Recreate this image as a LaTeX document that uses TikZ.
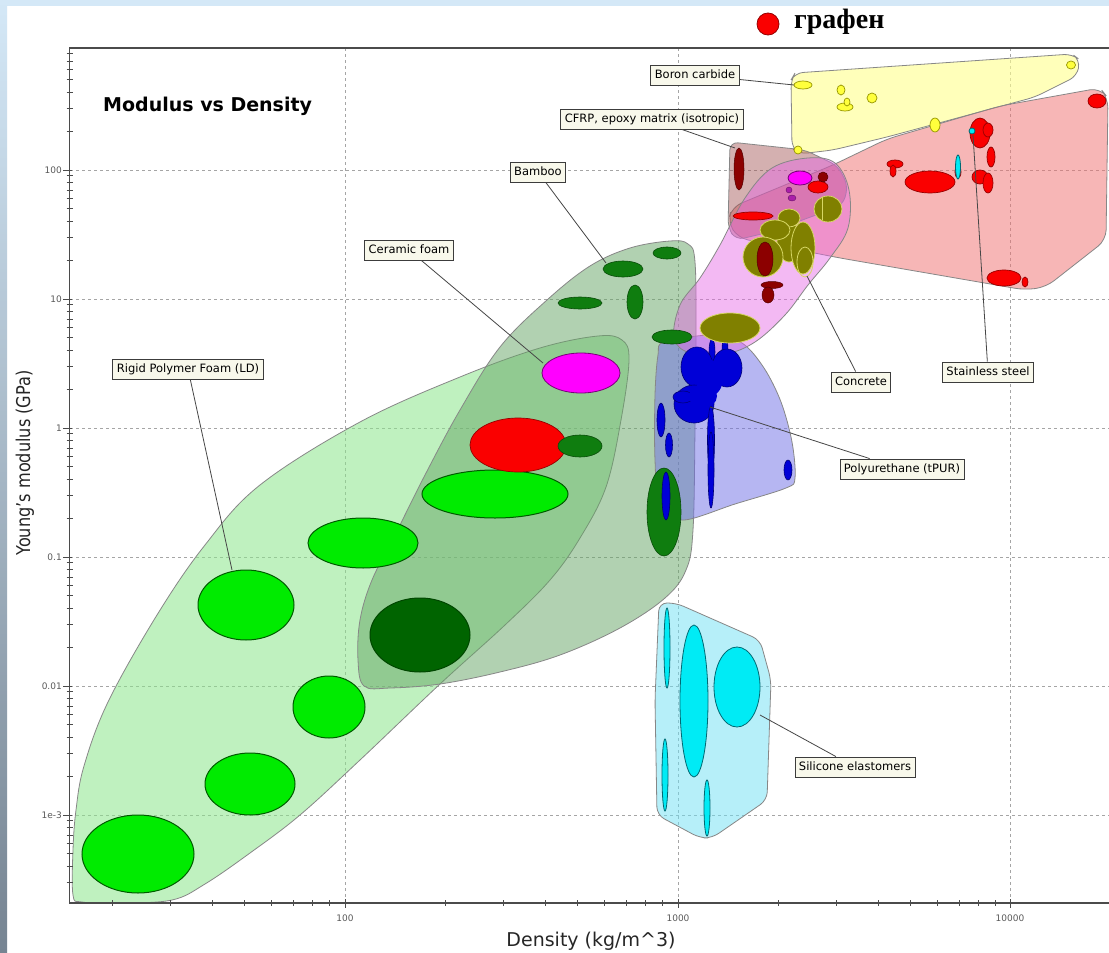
\documentclass[tikz,border=0pt]{standalone}
\usepackage{fontspec}
\usepackage{graphicx}
\setmainfont{DejaVu Sans}
\newfontfamily\rufont{Liberation Serif}
\definecolor{bandblue}{RGB}{212,232,247}
\definecolor{bandgray}{RGB}{118,132,146}
\definecolor{axiscol}{RGB}{75,75,75}
\definecolor{gridcol}{RGB}{165,165,165}
\definecolor{envline}{RGB}{135,135,135}
\definecolor{polyenv}{RGB}{140,230,140}
\definecolor{bambooenv}{RGB}{100,165,100}
\definecolor{purenv}{RGB}{110,110,230}
\definecolor{pinkenv}{RGB}{230,100,230}
\definecolor{cfrpenv}{RGB}{160,80,80}
\definecolor{redenv}{RGB}{240,110,110}
\definecolor{yelenv}{RGB}{255,255,140}
\definecolor{silenv}{RGB}{110,225,245}
\definecolor{bgreen}{RGB}{0,235,0}
\definecolor{bgreenline}{RGB}{0,90,0}
\definecolor{dgreen}{RGB}{0,100,0}
\definecolor{wgreen}{RGB}{15,125,15}
\definecolor{redfill}{RGB}{250,0,0}
\definecolor{redline}{RGB}{150,0,0}
\definecolor{magfill}{RGB}{255,0,255}
\definecolor{magline}{RGB}{120,0,120}
\definecolor{purfill}{RGB}{170,30,170}
\definecolor{blufill}{RGB}{0,0,215}
\definecolor{bluline}{RGB}{0,0,120}
\definecolor{olivefill}{RGB}{128,128,0}
\definecolor{oliveline}{RGB}{215,215,100}
\definecolor{dredfill}{RGB}{140,0,0}
\definecolor{cyanfill}{RGB}{0,235,245}
\definecolor{cyanline}{RGB}{0,105,115}
\definecolor{yelfill}{RGB}{255,255,60}
\definecolor{yelline}{RGB}{150,150,0}
\definecolor{lblfill}{RGB}{248,248,235}
\definecolor{lblline}{RGB}{60,60,60}
\definecolor{ticktext}{RGB}{90,90,90}
\definecolor{leadcol}{RGB}{70,70,70}
\newcommand\ovl[4]{\path[#1] (#2) ellipse [x radius=#3pt, y radius=#4pt];}
\begin{document}
\begin{tikzpicture}[x=1pt,y=-1pt,
  env/.style={draw=envline, line width=0.8pt},
  gridline/.style={draw=gridcol, line width=0.8pt, dash pattern=on 3pt off 3pt},
  axisline/.style={draw=axiscol, line width=1.6pt},
  tickmin/.style={draw=axiscol, line width=0.9pt},
  tickmaj/.style={draw=axiscol, line width=1pt},
  ticklab/.style={font=\fontsize{9}{10}\selectfont, text=ticktext, inner sep=1pt},
  gball/.style={fill=bgreen, draw=bgreenline, line width=1pt},
  dball/.style={fill=dgreen, draw=dgreen!70!black, line width=1pt},
  wball/.style={fill=wgreen, draw=wgreen!60!black, line width=0.6pt},
  rball/.style={fill=redfill, draw=redline, line width=0.7pt},
  mball/.style={fill=magfill, draw=magline, line width=0.8pt},
  pball/.style={fill=purfill, draw=purfill!60!black, line width=0.4pt},
  uball/.style={fill=blufill, draw=bluline, line width=0.6pt},
  ublob/.style={fill=blufill, draw=none},
  oball/.style={fill=olivefill, draw=oliveline, line width=0.8pt},
  oring/.style={draw=oliveline, line width=0.8pt},
  drball/.style={fill=dredfill, draw=dredfill!60!black, line width=0.5pt},
  cball/.style={fill=cyanfill, draw=cyanline, line width=0.8pt},
  yball/.style={fill=yelfill, draw=yelline, line width=0.7pt},
  lbl/.style={draw=lblline, fill=lblfill, line width=0.9pt, font=\fontsize{11.5}{13}\selectfont,
    inner xsep=4pt, inner ysep=4.5pt, text height=8.5pt, text depth=2.5pt},
  lead/.style={draw=leadcol, line width=0.8pt}]
\useasboundingbox (0,0) rectangle (1109,953);
% frame
\fill[white] (0,0) rectangle (1109,953);
\fill[bandblue] (0,0) rectangle (1109,6);
\shade[top color=bandblue, bottom color=bandgray] (0,0) rectangle (7,953);
% grid
\foreach \yy in {170,299,428,557,686,815} \draw[gridline] (70,\yy) -- (1109,\yy);
\foreach \xx in {345,678,1010} \draw[gridline] (\xx,48) -- (\xx,903);
% envelopes
\draw[env, fill=polyenv, fill opacity=0.55] plot[smooth cycle, tension=0.6] coordinates {
 (73,895) (73,850) (76,810) (84,766) (108,702) (157,615) (205,545) (260,485) (360,422) (460,377)
 (540,348) (598,336) (622,340) (629,360) (621,420) (606,487) (580,538) (550,580) (505,625)
 (440,684) (360,760) (300,815) (250,853) (205,884) (172,900) (120,903) (82,902)};
\draw[env, fill=bambooenv, fill opacity=0.5] plot[smooth cycle, tension=0.6] coordinates {
 (364,686) (358,660) (360,620) (372,580) (395,535) (425,475) (460,410) (500,347) (547,300)
 (590,266) (630,248) (670,241) (688,244) (695,262) (696,340) (695,430) (693,530) (686,570)
 (665,598) (620,628) (560,655) (500,672) (440,684) (390,688)};
\draw[env, fill=purenv, fill opacity=0.5] plot[smooth cycle, tension=0.55] coordinates {
 (664,342) (712,335) (742,343) (764,368) (781,402) (792,442) (795,478) (786,488) (735,504)
 (684,520) (660,508) (655,460) (655,395) (658,355)};
\draw[env, fill=yelenv, fill opacity=0.6, rounded corners=8pt] (795,73) -- (1072,54) -- (1080,60)
 -- (1077,76) -- (1035,97) -- (887,137) -- (833,150) -- (799,154) -- (792,148) -- (791,80) -- cycle;
\draw[env, fill=redenv, fill opacity=0.5, rounded corners=10pt] (732,207) -- (833,165) -- (887,139)
 -- (1000,106) -- (1100,88) -- (1108,98) -- (1106,240) -- (1046,287) -- (1025,290) -- (840,258)
 -- (738,238) -- (728,222) -- cycle;
\draw[env, fill=cfrpenv, fill opacity=0.45, rounded corners=8pt] (730,142) -- (805,150) -- (838,166)
 -- (848,186) -- (843,205) -- (770,232) -- (736,240) -- (728,228) -- cycle;
\draw[env, fill=pinkenv, fill opacity=0.45] plot[smooth cycle, tension=0.6] coordinates {
 (690,353) (674,338) (680,305) (700,278) (720,245) (745,198) (772,168) (808,158) (835,163)
 (849,190) (848,228) (830,258) (808,285) (785,315) (755,342) (725,354)};
\draw[env, fill=silenv, fill opacity=0.5, rounded corners=8pt] (659,603) -- (676,603) -- (760,640)
 -- (771,680) -- (767,800) -- (712,838) -- (700,838) -- (657,815) -- (655,700) -- cycle;
% foams
\ovl{gball}{138,854}{56}{39}
\ovl{gball}{250,784}{45}{31}
\ovl{gball}{329,707}{36}{31}
\ovl{gball}{246,605}{48}{35}
\ovl{gball}{363,543}{55}{25}
\ovl{gball}{495,494}{73}{24}
\ovl{dball}{420,635}{50}{37}
\ovl{rball}{518,445}{48}{27}
\ovl{wball}{580,446}{22}{11}
\ovl{mball}{581,373}{39}{20}
% woods
\ovl{wball}{667,253}{14}{6}
\ovl{wball}{623,269}{20}{8}
\ovl{wball}{580,303}{22}{6}
\ovl{wball}{635,302}{8}{17}
\ovl{wball}{672,337}{20}{7}
\ovl{wball}{664,512}{17}{44}
\ovl{uball}{666,496}{4}{24}
% polyurethanes
\ovl{uball}{712,352}{3}{13}
\ovl{uball}{725,350}{3}{13}
\ovl{uball}{727,368}{15}{19}
\ovl{uball}{697,367}{16}{20}
\ovl{uball}{694,404}{20}{19}
\ovl{uball}{683,397}{10}{6}
\ovl{ublob}{710,378}{13}{18}
\ovl{ublob}{703,396}{14}{12}
\ovl{uball}{711,440}{3.5}{34}
\ovl{uball}{711,470}{3}{38}
\ovl{uball}{661,420}{4}{17}
\ovl{uball}{669,445}{3.5}{12}
\ovl{uball}{788,470}{4}{10}
% concretes and composites
\ovl{oball}{730,328}{30}{15}
\ovl{oball}{789,242}{12}{20}
\ovl{oball}{789,218}{11}{9}
\ovl{oball}{775,230}{15}{10}
\ovl{oball}{803,248}{12}{26}
\ovl{oring}{805,262}{8}{15}
\ovl{oball}{763,257}{20}{20}
\ovl{oball}{828,209}{14}{13}
\path[oring] (822,197) -- (822,220);
\ovl{drball}{765,259}{8}{17}
\ovl{drball}{772,285}{11}{3.5}
\ovl{drball}{768,295}{6}{8}
\ovl{drball}{739,169}{5}{21}
\ovl{rball}{753,216}{20}{4}
\ovl{mball}{800,178}{12}{7}
\ovl{rball}{818,187}{10}{6}
\ovl{drball}{823,177}{5}{5}
\ovl{pball}{789,190}{3}{3}
\ovl{pball}{792,198}{4}{3}
% metals
\ovl{rball}{930,182}{25}{11}
\ovl{rball}{895,164}{8}{4}
\ovl{rball}{893,171}{3}{6}
\ovl{rball}{980,133}{10}{15}
\ovl{rball}{988,130}{5}{7}
\ovl{rball}{991,157}{4}{10}
\ovl{rball}{980,177}{8}{7}
\ovl{rball}{988,183}{5}{10}
\ovl{rball}{958,172}{3}{6}
\ovl{rball}{1097,101}{9}{7}
\ovl{rball}{1004,278}{17}{8}
\ovl{rball}{1025,282}{3}{5}
\ovl{cball}{958,167}{2.5}{12}
\ovl{cball}{972,131}{3}{3}
% ceramics
\ovl{yball}{803,85}{9}{4}
\ovl{yball}{841,90}{4}{5}
\ovl{yball}{845,107}{8}{4}
\ovl{yball}{847,102}{3}{4}
\ovl{yball}{872,98}{5}{5}
\ovl{yball}{935,125}{5}{7}
\ovl{yball}{1071,65}{4.5}{4}
\ovl{yball}{798,150}{4}{4}
% elastomers
\ovl{cball}{694,701}{14}{76}
\ovl{cball}{737,687}{23}{40}
\ovl{cball}{667,648}{3}{40}
\ovl{cball}{665,775}{3}{36}
\ovl{cball}{707,808}{3}{28}
% axes
\draw[axisline] (1109,48) -- (69.5,48) -- (69.5,903) -- (1109,903);
\begin{scope}
\clip (55,50) rectangle (1109,902);
\foreach \d in {-4,...,2}{\foreach \m in {2,...,9}{
  \pgfmathsetmacro\yy{428-129*(\d+log10(\m))}
  \draw[tickmin] (66.5,\yy) -- (72.5,\yy);}}
\end{scope}
\begin{scope}
\clip (71,895) rectangle (1109,912);
\foreach \d in {1,...,4}{\foreach \m in {2,...,9}{
  \pgfmathsetmacro\xx{345+333*(\d-2+log10(\m))}
  \draw[tickmin] (\xx,900) -- (\xx,906);}}
\end{scope}
\foreach \yy in {170,299,428,557,686,815} \draw[tickmaj] (63,\yy) -- (72,\yy);
\foreach \xx in {345,678,1010} \draw[tickmaj] (\xx,899) -- (\xx,908);
\node[ticklab, anchor=east] (y100) at (63,170) {100};
\node[ticklab, anchor=east] (y10) at (63,299) {10};
\node[ticklab, anchor=east] (y1) at (63,428) {1};
\node[ticklab, anchor=east] (y01) at (63,557) {0.1};
\node[ticklab, anchor=east] (y001) at (63,686) {0.01};
\node[ticklab, anchor=east] (y0001) at (63,815) {1e-3};
\node[ticklab] (x100) at (345,918) {100};
\node[ticklab] (x1000) at (678,918) {1000};
\node[ticklab] (x10000) at (1010,918) {10000};
% titles
\node[font=\fontsize{19}{22}\selectfont\bfseries, anchor=west, inner sep=0] (title) at (103,106) {Modulus vs Density};
\node[rotate=90, font=\fontsize{19}{22}\selectfont, text=black!85, inner sep=0] (ylab) at (25,463) {\scalebox{0.85}[1]{Young's modulus (GPa)}};
\node[font=\fontsize{19}{22}\selectfont, text=black!85, inner sep=0] (xlab) at (591,941) {Density (kg/m\textasciicircum 3)};
\node[circle, fill=redfill, draw=redline, line width=0.8pt, minimum size=22pt, inner sep=0] (gdot) at (768,24) {};
\node[font=\rufont\fontsize{28}{30}\selectfont\bfseries, anchor=west, inner sep=0] (gtext) at (794,22) {графен};
% labels
\node[lbl] (rigid) at (188,369) {Rigid Polymer Foam (LD)};
\node[lbl] (ceramic) at (409,250) {Ceramic foam};
\node[lbl] (bamboo) at (538,172) {Bamboo};
\node[lbl] (boron) at (695,75) {Boron carbide};
\node[lbl] (cfrp) at (652,119) {CFRP, epoxy matrix (isotropic)};
\node[lbl] (concrete) at (861,382) {Concrete};
\node[lbl] (stainless) at (988,372) {Stainless steel};
\node[lbl] (pur) at (902,469) {Polyurethane (tPUR)};
\node[lbl] (silicone) at (855,767) {Silicone elastomers};
\coordinate (rigidpt) at (232,570);
\coordinate (ceramicpt) at (543,363);
\coordinate (bamboopt) at (606,263);
\coordinate (boronpt) at (794,85);
\coordinate (cfrppt) at (735,148);
\coordinate (concretept) at (807,276);
\coordinate (stainlesspt) at (973,135);
\coordinate (purpt) at (710,407);
\coordinate (siliconept) at (760,715);
\draw[lead] (rigid) -- (rigidpt);
\draw[lead] (ceramic) -- (ceramicpt);
\draw[lead] (bamboo) -- (bamboopt);
\draw[lead] (boron) -- (boronpt);
\draw[lead] (cfrp) -- (cfrppt);
\draw[lead] (concrete) -- (concretept);
\draw[lead] (stainless) -- (stainlesspt);
\draw[lead] (pur) -- (purpt);
\draw[lead] (silicone) -- (siliconept);
\end{tikzpicture}
\end{document}
